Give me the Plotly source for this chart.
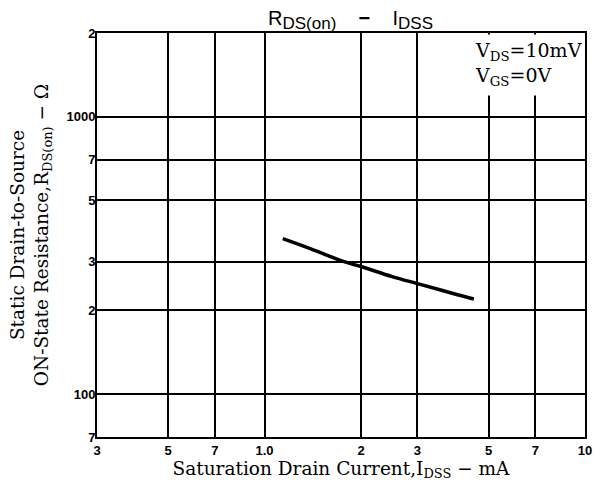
import plotly.graph_objects as go

# data
idss_mA = [1.14, 1.4, 1.77, 2.0, 2.5, 3.0, 3.5, 4.0, 4.5]
rds_ohm = [363, 333, 300, 288, 265, 250, 238, 228, 220]

x_tickvals = [0.3, 0.5, 0.7, 1.0, 2, 3, 5, 7, 10]
x_ticktext = ["3", "5", "7", "1.0", "2", "3", "5", "7", "10"]
y_tickvals = [70, 100, 200, 300, 500, 700, 1000, 2000]
y_ticktext = ["7", "100", "2", "3", "5", "7", "1000", "2"]

fig = go.Figure()
fig.add_trace(go.Scatter(x=idss_mA, y=rds_ohm, mode="lines",
                         line=dict(color="black", width=3.5, shape="spline"),
                         showlegend=False))

tickfont = dict(family="Liberation Sans", size=13, color="black", weight="bold")
titlefont = dict(family="DejaVu Serif", size=18.5, color="black")
fig.update_xaxes(type="log", range=[-0.5229, 1.0], tickvals=x_tickvals, ticktext=x_ticktext,
                 showgrid=True, gridcolor="black", gridwidth=1.5,
                 showline=True, linecolor="black", linewidth=2, mirror=True,
                 ticks="", tickfont=tickfont, zeroline=False, automargin=False,
                 title=dict(text="Saturation Drain Current,I<sub>DSS</sub> − mA",
                            font=titlefont, standoff=0))
fig.update_yaxes(type="log", range=[1.8451, 3.30103], tickvals=y_tickvals, ticktext=y_ticktext,
                 showgrid=True, gridcolor="black", gridwidth=1.5,
                 showline=True, linecolor="black", linewidth=2, mirror=True,
                 ticks="", tickfont=tickfont, zeroline=False, ticklabelstandoff=-3,
                 automargin=False,
                 title=dict(text="Static Drain-to-Source<br>ON-State Resistance,R<sub>DS(on)</sub> − Ω",
                            font=titlefont, standoff=13))

# white box behind the conditions text
fig.add_shape(type="rect", xref="x", yref="y", x0=3.6, x1=9.85, y0=1190, y1=1975,
              fillcolor="white", line=dict(width=0), layer="above")
fig.add_annotation(xref="paper", yref="paper", x=0.998, y=0.99, xanchor="right", yanchor="top",
                   align="left", showarrow=False,
                   text="V<sub>DS</sub>=10mV<br>V<sub>GS</sub>=0V",
                   font=dict(family="DejaVu Serif", size=19, color="black"))
fig.add_annotation(xref="paper", yref="paper", x=0.52, y=1.0, xanchor="center", yanchor="bottom",
                   showarrow=False, yshift=-2,
                   text="R<sub><span style='font-size:17px'>DS(on)</span></sub>    <b>−</b>    I<sub><span style='font-size:17px'>DSS</span></sub>",
                   font=dict(family="Liberation Sans", size=20, color="black"))

fig.update_layout(width=602, height=489, margin=dict(l=97, r=17, t=33, b=52),
                  plot_bgcolor="white", paper_bgcolor="white")
fig.write_html("out.html", post_script="document.body.style.margin='0px';",
               config={"displayModeBar": False})
